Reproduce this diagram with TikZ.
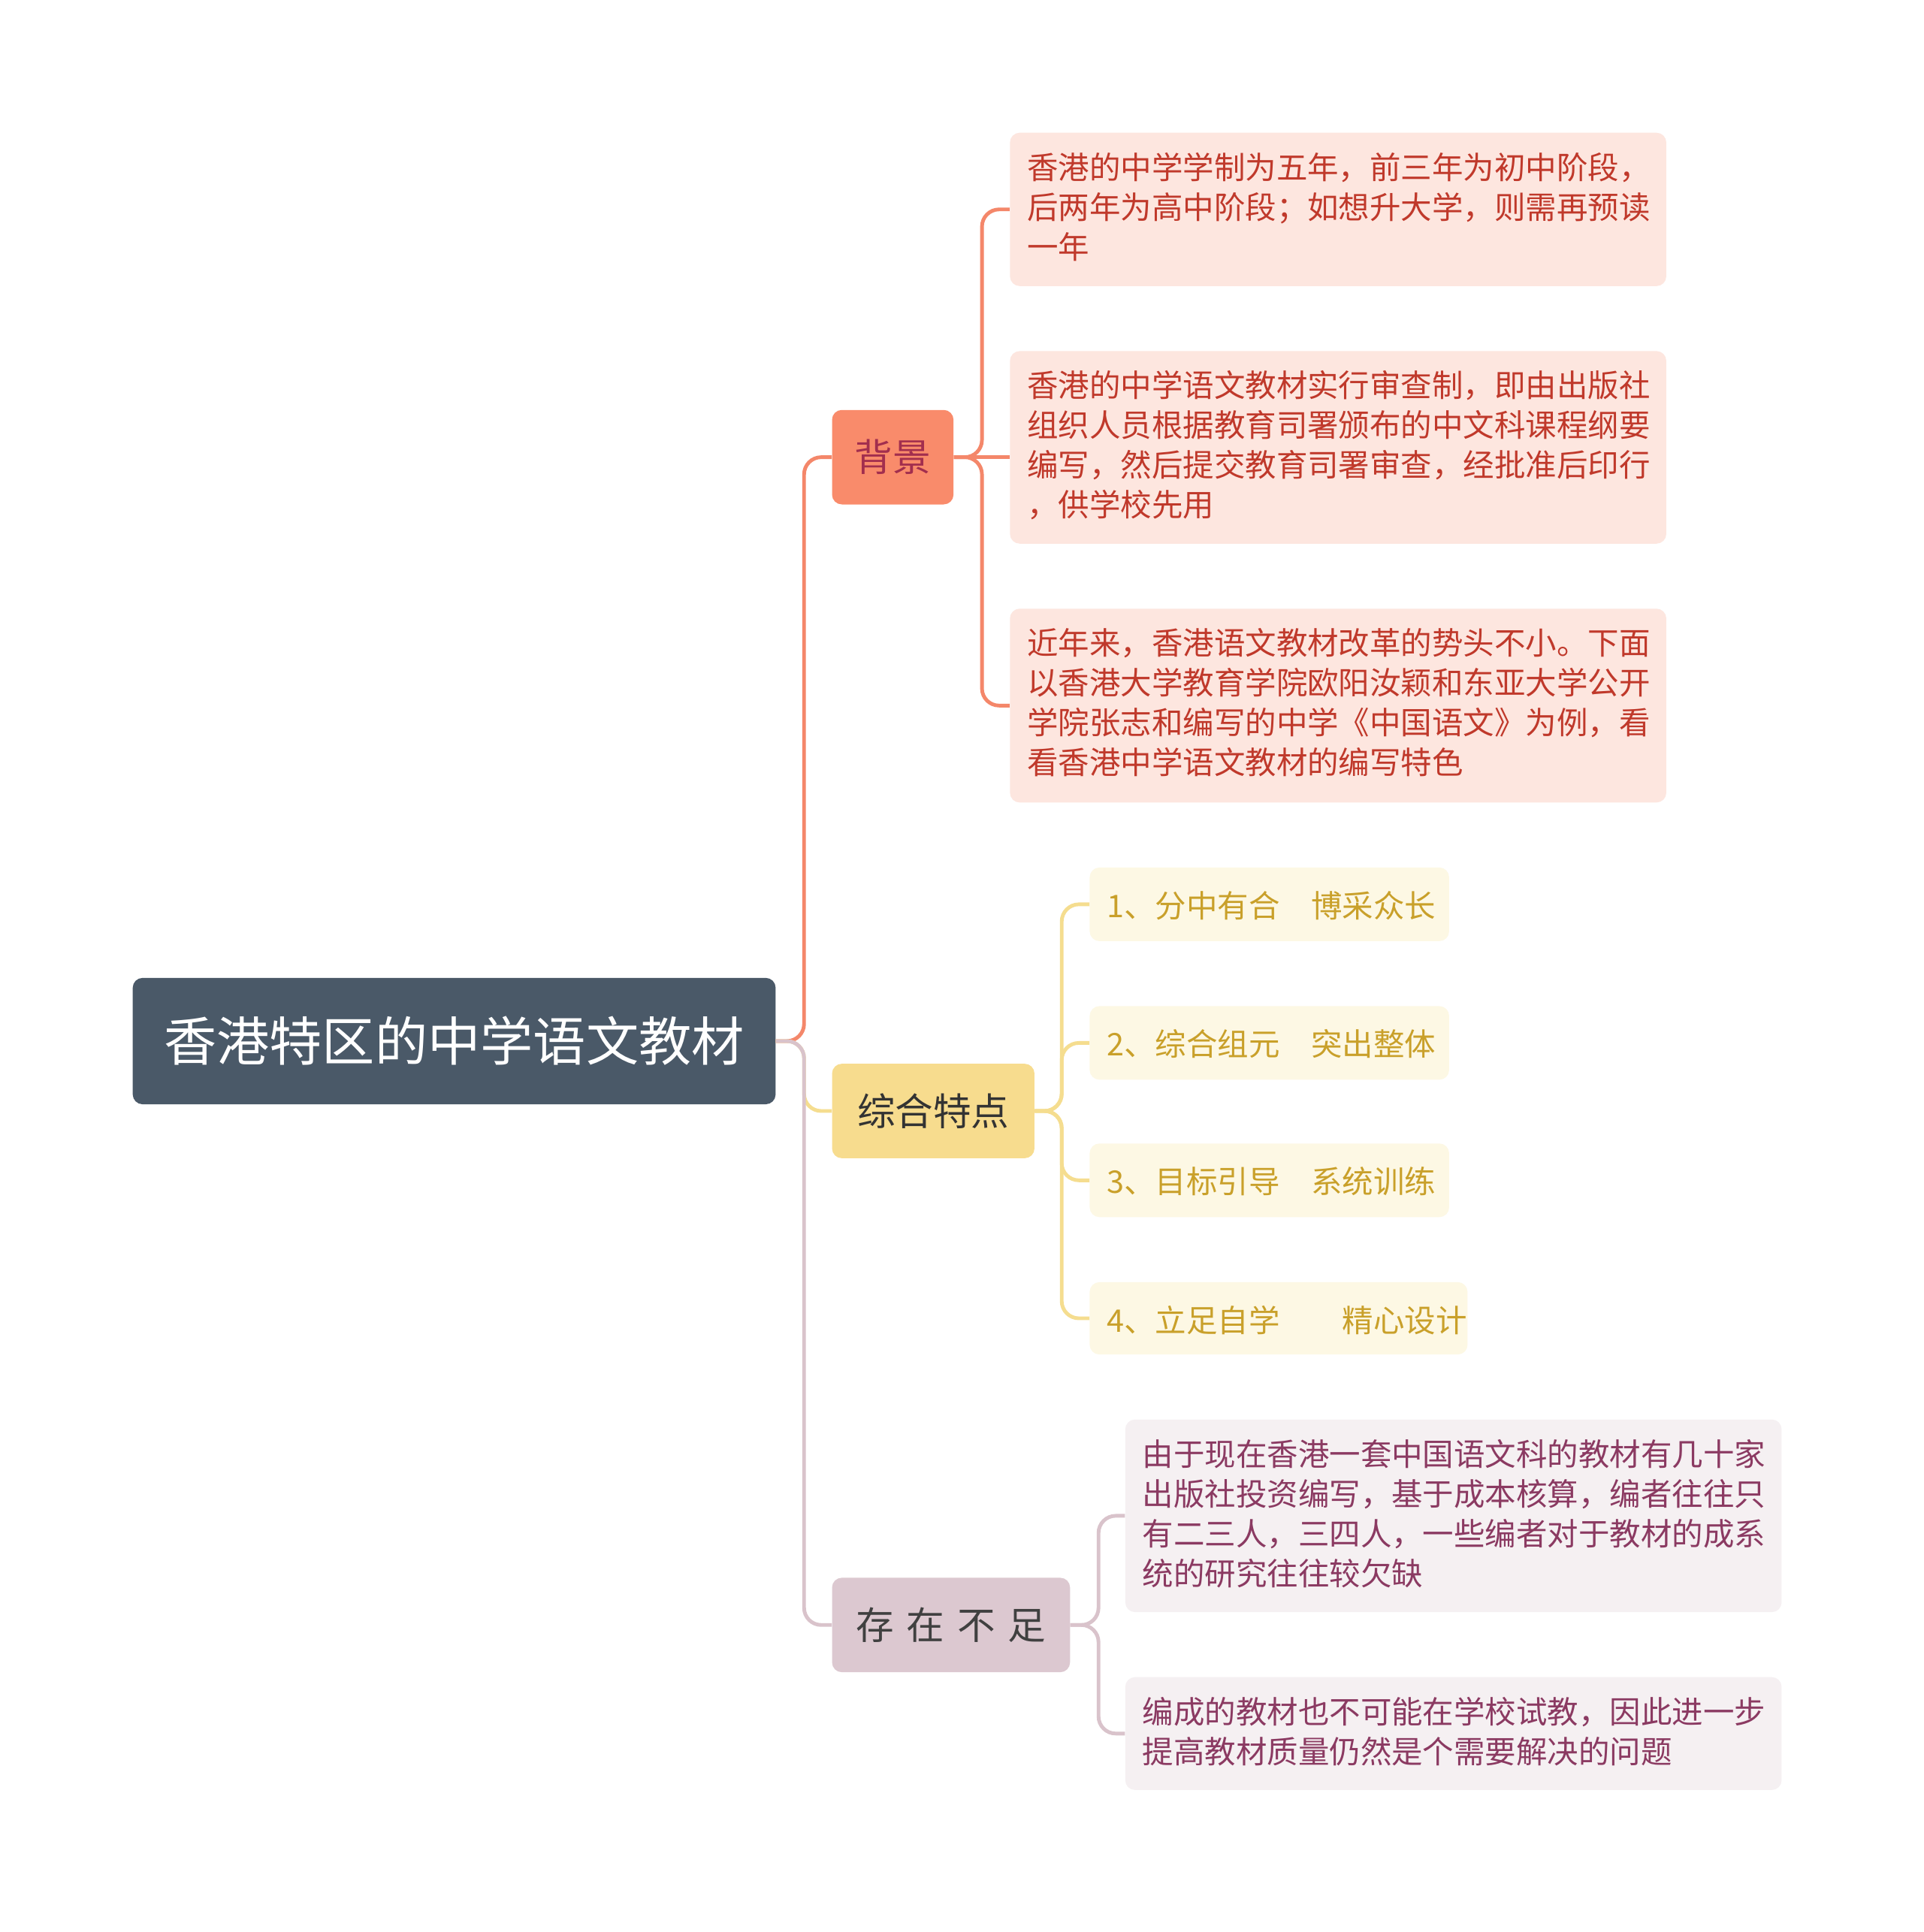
\documentclass[tikz,border=0pt]{standalone}
\usepackage{fontspec}
\setmainfont{Noto Sans CJK SC}
\begin{document}
\begin{tikzpicture}[x=1pt,y=1pt,
  box/.style={rounded corners=8pt,inner sep=0pt,anchor=north west},
  leaf/.style={box,align=left,font=\fontsize{25.4}{32.5}\selectfont},
  lnk/.style={line width=3pt,rounded corners=14pt}]
\definecolor{rootc}{HTML}{4A5968}
\definecolor{orc}{HTML}{F98B6B}
\definecolor{orl}{HTML}{FDE6DF}
\definecolor{ort}{HTML}{C0392B}
\definecolor{orln}{HTML}{F4876A}
\definecolor{yec}{HTML}{F7DC8E}
\definecolor{yel}{HTML}{FDF8E4}
\definecolor{yet}{HTML}{C9A02A}
\definecolor{yeln}{HTML}{F5DD8F}
\definecolor{pic}{HTML}{DCC8D0}
\definecolor{pil}{HTML}{F5F0F2}
\definecolor{pit}{HTML}{8B3A62}
\definecolor{piln}{HTML}{D9C3CB}
\useasboundingbox[fill=white] (0,0) rectangle (1568,-1575);
% root
\node[box,fill=rootc,minimum width=524pt,minimum height=103pt] (root) at (108,-797) {};
\node[white,font=\fontsize{43}{50}\selectfont] at (root.center) {香港特区的中学语文教材};
% mains
\node[box,fill=orc,minimum width=99pt,minimum height=77pt] (bg) at (678,-334) {};
\node[text=pit!80!red,font=\fontsize{31}{36}\selectfont] at (bg.center) {背景};
\node[box,fill=yec,minimum width=165pt,minimum height=77pt] (zh) at (678,-867) {};
\node[text=black!80,font=\fontsize{31}{36}\selectfont] at (zh.center) {综合特点};
\node[box,fill=pic,minimum width=194pt,minimum height=77pt] (cz) at (678,-1286) {};
\node[text=black!75,font=\fontsize{31}{36}\selectfont] at (cz.center) {存\,\,在\,\,不\,\,足};
% leaves orange
\node[box,fill=orl,minimum width=535pt,minimum height=125pt] (a1) at (823,-108) {};
\node[leaf,text=ort] at (837,-124) {香港的中学学制为五年，前三年为初中阶段，\\后两年为高中阶段；如想升大学，则需再预读\\一年};
\node[box,fill=orl,minimum width=535pt,minimum height=157pt] (a2) at (823,-286) {};
\node[leaf,text=ort] at (837,-302) {香港的中学语文教材实行审查制，即由出版社\\组织人员根据教育司署颁布的中文科课程纲要\\编写，然后提交教育司署审查，经批准后印行\\，供学校先用};
\node[box,fill=orl,minimum width=535pt,minimum height=158pt] (a3) at (823,-496) {};
\node[leaf,text=ort] at (837,-512) {近年来，香港语文教材改革的势头不小。下面\\以香港大学教育学院欧阳汝颖和东亚大学公开\\学院张志和编写的中学《中国语文》为例，看\\看香港中学语文教材的编写特色};
% leaves yellow
\node[box,fill=yel,minimum width=293pt,minimum height=60pt] (b1) at (888,-707) {};
\node[leaf,text=yet,anchor=west] at (902,-738) {1、分中有合\quad 博采众长};
\node[box,fill=yel,minimum width=293pt,minimum height=60pt] (b2) at (888,-820) {};
\node[leaf,text=yet,anchor=west] at (902,-851) {2、综合组元\quad 突出整体};
\node[box,fill=yel,minimum width=293pt,minimum height=60pt] (b3) at (888,-932) {};
\node[leaf,text=yet,anchor=west] at (902,-963) {3、目标引导\quad 系统训练};
\node[box,fill=yel,minimum width=308pt,minimum height=59pt] (b4) at (888,-1045) {};
\node[leaf,text=yet,anchor=west] at (902,-1076) {4、立足自学\qquad 精心设计};
% leaves pink
\node[box,fill=pil,minimum width=535pt,minimum height=157pt] (c1) at (917,-1157) {};
\node[leaf,text=pit] at (931,-1173) {由于现在香港一套中国语文科的教材有几十家\\出版社投资编写，基于成本核算，编者往往只\\有二三人，三四人，一些编者对于教材的成系\\统的研究往往较欠缺};
\node[box,fill=pil,minimum width=535pt,minimum height=92pt] (c2) at (917,-1367) {};
\node[leaf,text=pit] at (931,-1383) {编成的教材也不可能在学校试教，因此进一步\\提高教材质量仍然是个需要解决的问题};
% connectors
\draw[lnk,draw=orln] (root.east) -- ++(23,0) |- (bg.west);
\draw[lnk,draw=yeln] (root.east) -- ++(23,0) |- (zh.west);
\draw[lnk,draw=piln] (root.east) -- ++(23,0) |- (cz.west);
\draw[lnk,draw=orln] (bg.east) -- ++(23,0) |- (a1.west);
\draw[lnk,draw=orln] (bg.east) -- (a2.west |- bg.east);
\draw[lnk,draw=orln] (bg.east) -- ++(23,0) |- (a3.west);
\draw[lnk,draw=yeln] (zh.east) -- ++(22,0) |- (b1.west);
\draw[lnk,draw=yeln] (zh.east) -- ++(22,0) |- (b2.west);
\draw[lnk,draw=yeln] (zh.east) -- ++(22,0) |- (b3.west);
\draw[lnk,draw=yeln] (zh.east) -- ++(22,0) |- (b4.west);
\draw[lnk,draw=piln] (cz.east) -- ++(23,0) |- (c1.west);
\draw[lnk,draw=piln] (cz.east) -- ++(23,0) |- (c2.west);
\end{tikzpicture}
\end{document}
